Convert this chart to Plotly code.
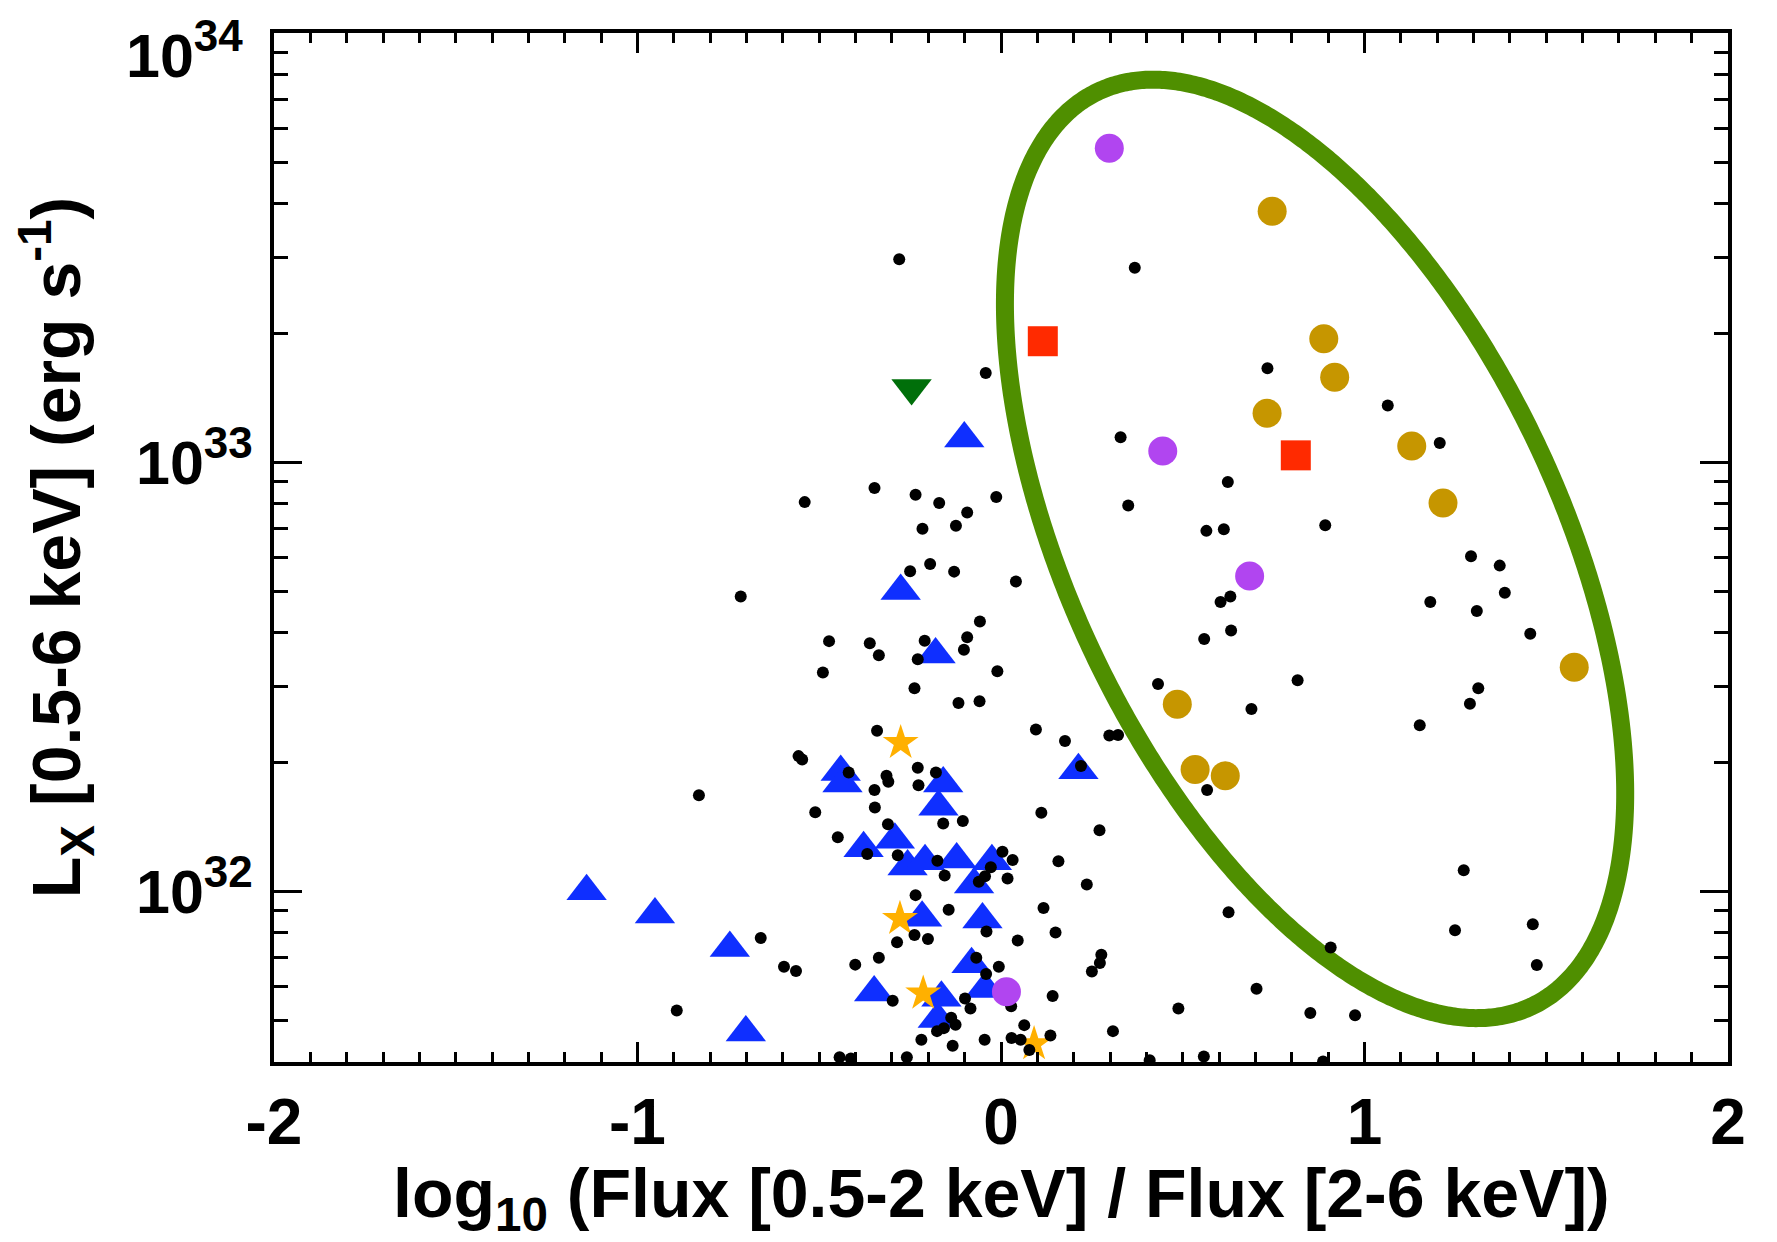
import numpy as np
import plotly.graph_objects as go

# ---------------- data (x = log10 flux ratio, y = log10 Lx) ----------------
DOT_X = [-0.280, -0.042, 0.368, 0.733, 1.064, 1.207, 0.624, 0.565, 0.613, 0.892,
         -0.348, -0.235, -0.170, -0.093, -0.013, -0.540, -0.216, -0.124, 0.329, 0.350,
         -0.250, -0.195, -0.129, 0.041, -0.716, -0.058, -0.093, -0.102, -0.473, -0.361,
         -0.336, -0.210, -0.229, -0.490, -0.010, -0.238, -0.117, -0.059, -0.341, 0.096,
         0.176, 0.298, 0.322, -0.557, -0.547, -0.419, -0.315, -0.310, -0.229, -0.179,
         -0.227, -0.348, 0.220, -0.831, -0.511, -0.347, -0.311, -0.159, -0.105, 0.111,
         0.271, -0.449, -0.368, -0.284, -0.175, -0.155, -0.061, -0.044, -0.028, 0.004,
         0.032, 0.018, 0.158, 0.236, 0.117, -0.235, -0.144, -0.040, 0.046, 0.150,
         -0.238, -0.201, -0.286, -0.661, -0.336, -0.401, -0.597, -0.564, -0.068, -0.006,
         -0.041, 0.276, 0.272, 0.250, 0.028, 0.142, -0.298, -0.099, -0.084, -0.892,
         -0.137, -0.125, -0.157, -0.176, 0.064, 0.308, -0.219, -0.133, -0.045, 0.029,
         0.054, 0.078, 0.136, -0.444, -0.413, -0.259, 1.293, 1.372, 1.386, 1.181,
         1.309, 1.456, 0.604, 0.631, 0.633, 0.559, 0.816, 0.432, 0.689, 1.313,
         1.290, 1.152, 0.567, 1.273, 0.626, 1.249, 1.463, 1.474, 0.907, 0.703,
         0.488, 0.851, 0.974, 0.558, 0.409, 0.886]
DOT_LOGL = [33.473, 33.208, 33.453, 33.219, 33.132, 33.045, 32.954, 32.840, 32.844, 32.853,
            32.940, 32.924, 32.905, 32.883, 32.919, 32.907, 32.845, 32.852, 33.058, 32.899,
            32.746, 32.763, 32.745, 32.722, 32.687, 32.629, 32.592, 32.563, 32.583, 32.578,
            32.550, 32.584, 32.541, 32.510, 32.513, 32.473, 32.439, 32.443, 32.374, 32.377,
            32.350, 32.363, 32.364, 32.315, 32.307, 32.277, 32.269, 32.255, 32.288, 32.277,
            32.247, 32.236, 32.292, 32.224, 32.184, 32.195, 32.156, 32.158, 32.164, 32.183,
            32.142, 32.126, 32.087, 32.084, 32.071, 32.037, 32.022, 32.035, 32.056, 32.092,
            32.073, 32.030, 32.070, 32.016, 31.961, 31.991, 31.957, 31.906, 31.885, 31.904,
            31.898, 31.889, 31.881, 31.891, 31.845, 31.829, 31.824, 31.814, 31.845, 31.824,
            31.807, 31.852, 31.833, 31.813, 31.732, 31.756, 31.745, 31.750, 31.727, 31.722,
            31.705, 31.689, 31.681, 31.674, 31.688, 31.674, 31.654, 31.640, 31.654, 31.658,
            31.654, 31.630, 31.664, 31.613, 31.610, 31.613, 32.781, 32.759, 32.696, 32.674,
            32.653, 32.600, 32.674, 32.687, 32.608, 32.588, 32.492, 32.483, 32.425, 32.473,
            32.437, 32.387, 32.236, 32.049, 31.951, 31.909, 31.923, 31.828, 31.869, 31.773,
            31.727, 31.716, 31.711, 31.615, 31.606, 31.603]

TRI_X = [-0.101, -0.276, -0.180, -0.441, -0.436, -0.159, -0.172, 0.213, -0.378, -0.292,
         -0.257, -0.209, -0.122, -0.025, -0.074, -1.140, -0.952, -0.746, -0.702, -0.217,
         -0.051, -0.349, -0.081, -0.044, -0.164, -0.174]
TRI_LOGL = [33.055, 32.700, 32.552, 32.278, 32.251, 32.251, 32.197, 32.282, 32.100, 32.120,
            32.058, 32.070, 32.074, 32.070, 32.016, 32.000, 31.946, 31.868, 31.671, 31.938,
            31.934, 31.764, 31.830, 31.772, 31.752, 31.702]

DTRI_X = [-0.246]
DTRI_LOGL = [33.173]

STAR_X = [-0.276, -0.278, -0.214, 0.091]
STAR_LOGL = [32.346, 31.936, 31.762, 31.644]

PURPLE_X = [0.298, 0.445, 0.684, 0.015]
PURPLE_LOGL = [33.732, 33.026, 32.735, 31.766]

GOLD_X = [0.746, 0.888, 0.918, 0.732, 1.130, 1.216, 1.577, 0.485, 0.534, 0.617]
GOLD_LOGL = [33.585, 33.288, 33.198, 33.114, 33.038, 32.905, 32.522, 32.436, 32.284, 32.269]

RED_X = [0.115, 0.811]
RED_LOGL = [33.282, 33.016]

# ellipse (in x, log10 L): centre and two semi-axis vectors
ELL_CENTER = (0.864, 32.798)
ELL_AXIS_A = (0.5964, -1.0661)
ELL_AXIS_B = (-0.6101, -0.2441)

X_RANGE = [-2, 2]
Y_RANGE_LOG = [np.log10(4e31), 34.0004]
Y_TICKVALS = [1e32, 1e33, 1e34]
Y_EXPONENTS = ["32", "33", "34"]
X_TICKVALS = [-2, -1, 0, 1, 2]
X_TICKTEXT = ["-2", "-1", "0", "1", "2"]
X_TITLE = "log<sub>10</sub> (Flux [0.5-2 keV] / Flux [2-6 keV])"
Y_TITLE = "L<sub>X</sub> [0.5-6 keV] (erg s<sup>-1</sup>)"

# ---------------- figure ----------------
def lin(v):
    return [10 ** a for a in v]

def pow_label(e):
    return '10<sup><span style="font-size:44px">%s</span></sup>' % e

FONT = "Liberation Sans, Arial, Helvetica, sans-serif"

fig = go.Figure()

t = np.linspace(0.0, 2 * np.pi + 0.05, 720)
ex = ELL_CENTER[0] + ELL_AXIS_A[0] * np.cos(t) + ELL_AXIS_B[0] * np.sin(t)
ey = ELL_CENTER[1] + ELL_AXIS_A[1] * np.cos(t) + ELL_AXIS_B[1] * np.sin(t)
fig.add_trace(go.Scatter(x=ex, y=10 ** ey, mode="lines",
                         line=dict(color="#4f8f00", width=18, simplify=False),
                         hoverinfo="skip"))

fig.add_trace(go.Scatter(x=TRI_X, y=lin(TRI_LOGL), mode="markers",
                         marker=dict(symbol="triangle-up", size=35, color="#0f2fff",
                                     line=dict(width=0))))
fig.add_trace(go.Scatter(x=DTRI_X, y=lin(DTRI_LOGL), mode="markers",
                         marker=dict(symbol="triangle-down", size=35, color="#006f0a",
                                     line=dict(width=0))))
fig.add_trace(go.Scatter(x=STAR_X, y=lin(STAR_LOGL), mode="markers",
                         marker=dict(symbol="star", size=27, color="#ffb000",
                                     line=dict(width=0))))
fig.add_trace(go.Scatter(x=DOT_X, y=lin(DOT_LOGL), mode="markers",
                         marker=dict(symbol="circle", size=12, color="black",
                                     line=dict(width=0))))
fig.add_trace(go.Scatter(x=PURPLE_X, y=lin(PURPLE_LOGL), mode="markers",
                         marker=dict(symbol="circle", size=29, color="#b145f0",
                                     line=dict(width=0))))
fig.add_trace(go.Scatter(x=GOLD_X, y=lin(GOLD_LOGL), mode="markers",
                         marker=dict(symbol="circle", size=29, color="#c69600",
                                     line=dict(width=0))))
fig.add_trace(go.Scatter(x=RED_X, y=lin(RED_LOGL), mode="markers",
                         marker=dict(symbol="square", size=30, color="#ff2a00",
                                     line=dict(width=0))))

# the page body has an 8px margin, so the figure is sized to fit inside it
fig.update_layout(
    width=1761, height=1226,
    margin=dict(l=266, r=41, t=25, b=172, autoexpand=False),
    paper_bgcolor="white", plot_bgcolor="white",
    showlegend=False,
    font=dict(family=FONT, color="black"),
)

fig.update_xaxes(
    range=X_RANGE, showgrid=False, zeroline=False,
    showline=True, linecolor="black", linewidth=4, mirror="allticks",
    ticks="inside", ticklen=20, tickwidth=3, tickcolor="black",
    tickvals=X_TICKVALS, ticktext=X_TICKTEXT,
    tickfont=dict(size=64, family=FONT, weight="bold"),
    ticklabelstandoff=1,
    minor=dict(dtick=0.1, ticks="inside", ticklen=10, tickwidth=3, tickcolor="black"),
)

ytext = [pow_label(e) for e in Y_EXPONENTS[:-1]] + [""]
fig.update_yaxes(
    type="log", range=Y_RANGE_LOG, showgrid=False, zeroline=False,
    showline=True, linecolor="black", linewidth=4, mirror="allticks",
    ticks="inside", ticklen=28, tickwidth=3, tickcolor="black",
    tickvals=Y_TICKVALS, ticktext=ytext,
    tickfont=dict(size=61, family=FONT, weight="bold"),
    ticklabelstandoff=5,
    minor=dict(tickvals=[m * 10.0 ** e for e in (31, 32, 33) for m in range(2, 10)
                         if m * 10.0 ** e >= 4e31],
               ticks="inside", ticklen=14, tickwidth=3, tickcolor="black"),
    title=dict(text=Y_TITLE,
               font=dict(size=68, family=FONT, weight="bold"), standoff=41),
)

# x-axis title as an annotation so it can sit as low as in the original
fig.add_annotation(x=0.5, xref="paper", y=0, yref="paper", text=X_TITLE,
                   showarrow=False, xanchor="center", yanchor="top", yshift=-91,
                   font=dict(size=68, family=FONT, weight="bold", color="black"))

# top decade label sits just below its tick so that it stays inside the page
fig.add_annotation(x=0, xref="paper", y=np.log10(Y_TICKVALS[-1]), yref="y",
                   text=pow_label(Y_EXPONENTS[-1]), showarrow=False,
                   xanchor="right", yanchor="middle", xshift=-29, yshift=-17,
                   font=dict(size=61, family=FONT, weight="bold", color="black"))

fig.write_html("out.html")
